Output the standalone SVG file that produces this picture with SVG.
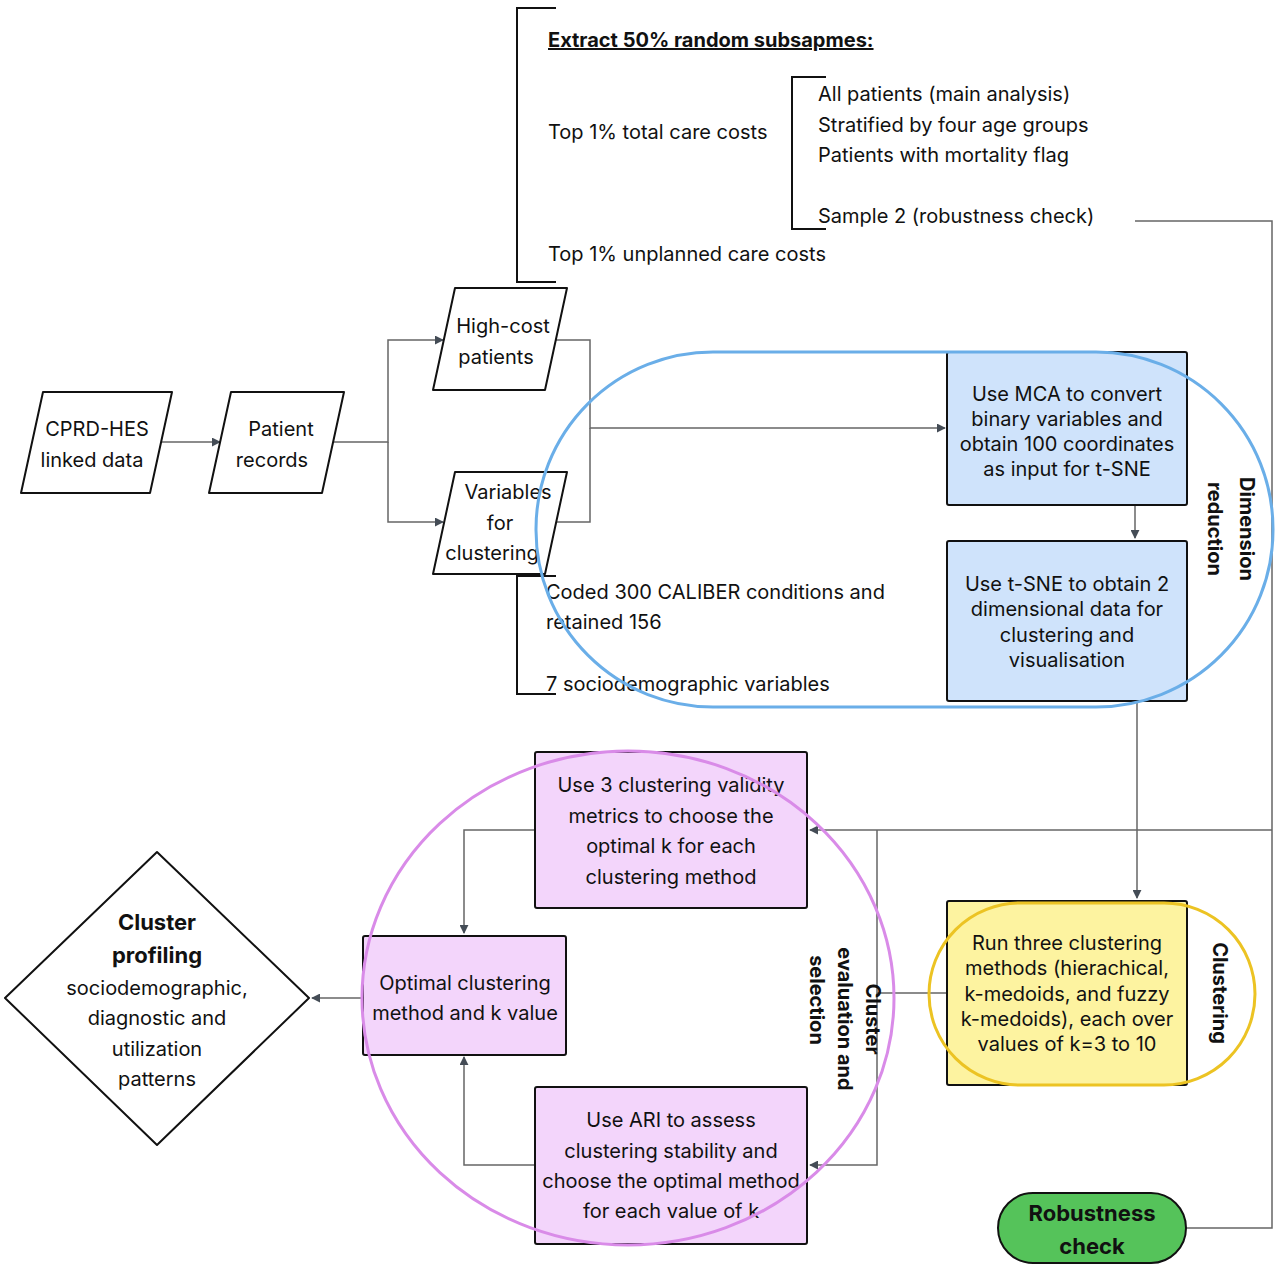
<svg xmlns="http://www.w3.org/2000/svg" width="1280" height="1276" viewBox="0 0 1280 1276">
<defs>
<marker id="a" viewBox="0 0 10 10" refX="9" refY="5" markerWidth="9" markerHeight="9" markerUnits="userSpaceOnUse" orient="auto"><path d="M0,0L10,5L0,10z" fill="#444c56"/></marker>
<style>
text{font-family:Inter,"Liberation Sans",sans-serif;font-size:20px;fill:#111;}
.c{text-anchor:middle}
.b{font-weight:bold}
.n{stroke:#111;stroke-width:2;stroke-linejoin:round}
.e{fill:none;stroke:#666;stroke-width:1.5}
.br{fill:none;stroke:#111;stroke-width:2}
</style>
</defs>
<rect width="1280" height="1276" fill="#fff"/>
<g id="connectors">
<path class="e" d="M160,442H220" marker-end="url(#a)"/>
<path class="e" d="M332,442H388V340H443" marker-end="url(#a)"/>
<path class="e" d="M388,442V522H443" marker-end="url(#a)"/>
<path class="e" d="M555,340H590V428H945" marker-end="url(#a)"/>
<path class="e" d="M555,522H590V428"/>
<path class="e" d="M1135,505V538" marker-end="url(#a)"/>
<path class="e" d="M1137,702V898" marker-end="url(#a)"/>
<path class="e" d="M1135,221H1272V1228H1186"/>
<path class="e" d="M1272,830H810" marker-end="url(#a)"/>
<path class="e" d="M946,993H877V830"/>
<path class="e" d="M877,993V1165H810" marker-end="url(#a)"/>
<path class="e" d="M535,830H464V933" marker-end="url(#a)"/>
<path class="e" d="M535,1165H464V1057" marker-end="url(#a)"/>
<path class="e" d="M362,998H312" marker-end="url(#a)"/>
</g>
<g id="subsamples">
<path class="br" d="M556,8H517V282H556"/>
<text x="548" y="47" class="b" style="text-decoration:underline">Extract 50% random subsapmes:</text>
<text x="548" y="139">Top 1% total care costs</text>
<text x="548" y="261">Top 1% unplanned care costs</text>
<path class="br" d="M826,77H792V229H826"/>
<text x="818" y="101">All patients (main analysis)</text>
<text x="818" y="132">Stratified by four age groups</text>
<text x="818" y="162">Patients with mortality flag</text>
<text x="818" y="223">Sample 2  (robustness check)</text>
</g>
<g id="cprd"><path class="n" fill="#fff" d="M43,392H172L150,493H21Z"/><text x="97" y="436" class="c">CPRD-HES</text><text x="92" y="467" class="c">linked data</text></g>
<g id="records"><path class="n" fill="#fff" d="M231,392H344L322,493H209Z"/><text x="281" y="436" class="c">Patient</text><text x="272" y="467" class="c">records</text></g>
<g id="highcost"><path class="n" fill="#fff" d="M455,288H567L545,390H433Z"/><text x="503" y="333" class="c">High-cost</text><text x="496" y="364" class="c">patients</text></g>
<g id="vars"><path class="n" fill="#fff" d="M455,472H567L545,574H433Z"/><text x="508" y="499" class="c">Variables</text><text x="500" y="530" class="c">for</text><text x="492" y="560" class="c">clustering</text></g>
<g id="varinfo">
<path class="br" d="M556,576H517V694H556"/>
<text x="546" y="599">Coded 300 CALIBER conditions and</text>
<text x="546" y="629">retained 156</text>
<text x="546" y="691">7 sociodemographic variables</text>
</g>
<g id="mca"><rect class="n" x="947" y="352" width="240" height="153" rx="2" fill="#cfe3fb"/><text x="1067" y="401" class="c">Use MCA to convert</text><text x="1067" y="426" class="c">binary variables and</text><text x="1067" y="451" class="c">obtain 100 coordinates</text><text x="1067" y="476" class="c">as input for t-SNE</text></g>
<g id="tsne"><rect class="n" x="947" y="541" width="240" height="160" rx="2" fill="#cfe3fb"/><text x="1067" y="591" class="c">Use t-SNE to obtain 2</text><text x="1067" y="616" class="c">dimensional data for</text><text x="1067" y="642" class="c">clustering and</text><text x="1067" y="667" class="c">visualisation</text></g>
<g id="dimgroup"><rect x="536" y="352" width="737" height="355" rx="177" fill="none" stroke="#6aaee8" stroke-width="3"/>
<text transform="translate(1240,529) rotate(90)" class="c b">Dimension</text><text transform="translate(1208,529) rotate(90)" class="c b">reduction</text></g>
<g id="clust"><rect class="n" x="947" y="901" width="240" height="184" rx="2" fill="#fdf3a0"/><text x="1067" y="950" class="c">Run three clustering</text><text x="1067" y="975" class="c">methods (hierachical,</text><text x="1067" y="1001" class="c">k-medoids, and fuzzy</text><text x="1067" y="1026" class="c">k-medoids), each over</text><text x="1067" y="1051" class="c">values of k=3 to 10</text></g>
<g id="clustgroup"><rect x="929" y="903" width="326" height="182" rx="91" fill="none" stroke="#ecc323" stroke-width="3"/>
<text transform="translate(1213,993) rotate(90)" class="c b">Clustering</text></g>
<g id="validity"><rect class="n" x="535" y="752" width="272" height="156" rx="2" fill="#f3d5fb"/><text x="671" y="792" class="c">Use  3 clustering validity</text><text x="671" y="823" class="c">metrics to choose the</text><text x="671" y="853" class="c">optimal k for each</text><text x="671" y="884" class="c">clustering method</text></g>
<g id="optimal"><rect class="n" x="363" y="936" width="203" height="119" rx="2" fill="#f3d5fb"/><text x="465" y="990" class="c">Optimal clustering</text><text x="465" y="1020" class="c">method and k value</text></g>
<g id="ari"><rect class="n" x="535" y="1087" width="272" height="157" rx="2" fill="#f3d5fb"/><text x="671" y="1127" class="c">Use ARI to assess</text><text x="671" y="1158" class="c">clustering stability and</text><text x="671" y="1188" class="c">choose the optimal method</text><text x="671" y="1218" class="c">for each value of k</text></g>
<g id="evalgroup"><ellipse cx="628" cy="998" rx="266" ry="247" fill="none" stroke="#d98be8" stroke-width="3"/>
<text transform="translate(866,1019) rotate(90)" class="c b">Cluster</text><text transform="translate(838,1019) rotate(90)" class="c b">evaluation and</text><text transform="translate(810,1000) rotate(90)" class="c b">selection</text></g>
<g id="profiling"><path class="n" fill="#fff" d="M157,852L309,998L157,1145L5,998Z"/><text x="157" y="930" class="c b" style="font-size:22px">Cluster</text><text x="157" y="963" class="c b" style="font-size:22px">profiling</text><text x="157" y="995" class="c">sociodemographic,</text><text x="157" y="1025" class="c">diagnostic and</text><text x="157" y="1056" class="c">utilization</text><text x="157" y="1086" class="c">patterns</text></g>
<g id="robust"><rect class="n" x="998" y="1193" width="188" height="70" rx="35" fill="#55c35a"/><text x="1092" y="1221" class="c b" style="font-size:22px">Robustness</text><text x="1092" y="1254" class="c b" style="font-size:22px">check</text></g>
</svg>
